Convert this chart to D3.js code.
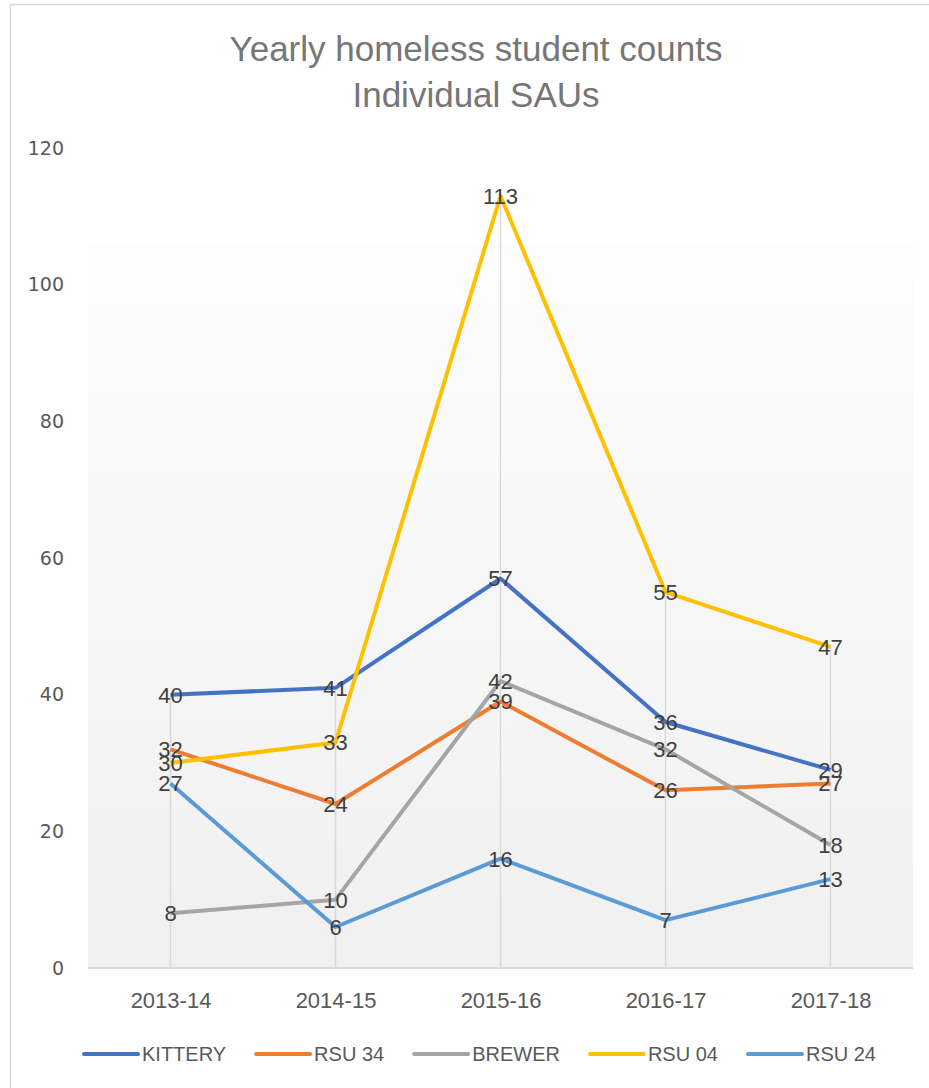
<!DOCTYPE html>
<html>
<head>
<meta charset="utf-8">
<script src="https://cdn.jsdelivr.net/npm/d3@7"></script>
<style>
  body { margin: 0; background: #fff; }
  svg { display: block; }
</style>
</head>
<body>
<svg id="chart"></svg>
<script>
// values
const years = ["2013-14", "2014-15", "2015-16", "2016-17", "2017-18"];
const seriesNames = ["KITTERY", "RSU 34", "BREWER", "RSU 04", "RSU 24"];
const kittery = [40, 41, 57, 36, 29];
const rsu34 = [32, 24, 39, 26, 27];
const brewer = [8, 10, 42, 32, 18];
const rsu04 = [30, 33, 113, 55, 47];
const rsu24 = [27, 6, 16, 7, 13];
const yTicks = [0, 20, 40, 60, 80, 100, 120];
const titleLines = ["Yearly homeless student counts", "Individual SAUs"];

const seriesColors = ["#4472C4", "#ED7D31", "#A5A5A5", "#FFC000", "#5B9BD5"];
const series = [kittery, rsu34, brewer, rsu04, rsu24].map((vals, i) => ({
    name: seriesNames[i],
    color: seriesColors[i],
    values: vals.map((v, j) => ({year: years[j], value: v}))
}));

const width = 929, height = 1088;
const plot = {left: 88, right: 913, top: 148, bottom: 968, bgTop: 243};

const svg = d3.select("#chart")
    .attr("width", width)
    .attr("height", height)
    .style("font-family", "'Liberation Sans', Arial, sans-serif");

// chart outer border (only top + left visible in the screenshot)
svg.append("rect")
    .attr("x", 10.5).attr("y", 4.5)
    .attr("width", 1000).attr("height", 1200)
    .attr("fill", "#fff")
    .attr("stroke", "#d9d9d9")
    .attr("stroke-width", 1.5);

const defs = svg.append("defs");
const grad = defs.append("linearGradient")
    .attr("id", "plotBg")
    .attr("x1", 0).attr("y1", 0).attr("x2", 0).attr("y2", 1);
grad.append("stop").attr("offset", 0).attr("stop-color", "#fdfdfd");
grad.append("stop").attr("offset", 1).attr("stop-color", "#f0f0f0");

const x = d3.scalePoint()
    .domain(years)
    .range([plot.left, plot.right])
    .padding(0.5);

const y = d3.scaleLinear()
    .domain([0, 120])
    .range([plot.bottom, plot.top]);

svg.append("rect")
    .attr("x", plot.left)
    .attr("y", plot.bgTop)
    .attr("width", plot.right - plot.left)
    .attr("height", plot.bottom - plot.bgTop)
    .attr("fill", "url(#plotBg)");

// title
svg.append("g")
    .selectAll("text")
    .data(titleLines)
    .join("text")
    .attr("x", 476)
    .attr("y", (d, i) => 61 + i * 46)
    .attr("text-anchor", "middle")
    .attr("fill", "#767676")
    .style("font-size", "35px")
    .text(d => d);

// y axis labels, no line
const yAxis = svg.append("g")
    .attr("transform", `translate(${plot.left - 24},0)`)
    .call(d3.axisLeft(y).tickValues(yTicks).tickSize(0).tickPadding(0));
yAxis.select(".domain").remove();
yAxis.selectAll("text")
    .attr("fill", "#595959")
    .style("font-family", "'DejaVu Sans', sans-serif")
    .style("font-size", "19px");

// drop lines from the highest point of each year
svg.append("g")
    .selectAll("line")
    .data(years)
    .join("line")
    .attr("x1", d => x(d)).attr("x2", d => x(d))
    .attr("y1", (d, j) => y(d3.max(series, s => s.values[j].value)))
    .attr("y2", plot.bottom)
    .attr("stroke", "#d9d9d9")
    .attr("stroke-width", 1.5);

// x axis
const xAxis = svg.append("g")
    .attr("transform", `translate(0,${plot.bottom})`)
    .call(d3.axisBottom(x).tickSize(0).tickPadding(24));
xAxis.select(".domain")
    .attr("d", `M${plot.left},0H${plot.right}`)
    .attr("stroke", "#d9d9d9")
    .attr("stroke-width", 2);
xAxis.selectAll("text")
    .attr("fill", "#595959")
    .style("font-size", "22px");

// series lines
const line = d3.line()
    .x(d => x(d.year))
    .y(d => y(d.value));

svg.append("g")
    .attr("fill", "none")
    .selectAll("path")
    .data(series)
    .join("path")
    .attr("d", d => line(d.values))
    .attr("stroke", d => d.color)
    .attr("stroke-width", 4)
    .attr("stroke-linejoin", "round");

// data labels centred on the points
svg.append("g")
    .selectAll("g")
    .data(series)
    .join("g")
    .selectAll("text")
    .data(d => d.values)
    .join("text")
    .attr("x", d => x(d.year))
    .attr("y", d => y(d.value))
    .attr("dy", "0.36em")
    .attr("text-anchor", "middle")
    .attr("fill", "#404040")
    .style("font-size", "22px")
    .text(d => d.value);

// legend
const legend = svg.append("g")
    .attr("transform", "translate(0,1054)");
const items = legend.selectAll("g")
    .data(series)
    .join("g");
items.append("line")
    .attr("x1", 0).attr("x2", 54)
    .attr("stroke", d => d.color)
    .attr("stroke-width", 4)
    .attr("stroke-linecap", "round");
items.append("text")
    .attr("x", 58)
    .attr("dy", "0.35em")
    .attr("fill", "#595959")
    .style("font-size", "20px")
    .text(d => d.name);

let offset = 0;
const widths = [];
items.each(function() {
    const w = 58 + d3.select(this).select("text").node().getComputedTextLength();
    widths.push(w);
});
const total = d3.sum(widths) + 30 * (widths.length - 1);
offset = 480 - total / 2;
items.attr("transform", (d, i) => {
    const t = `translate(${offset},0)`;
    offset += widths[i] + 30;
    return t;
});
</script>
</body>
</html>
